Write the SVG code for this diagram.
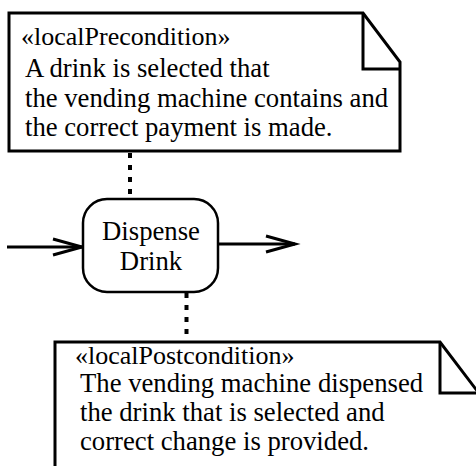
<svg xmlns="http://www.w3.org/2000/svg" width="476" height="466" viewBox="0 0 476 466">
<style>
.shape{fill:#fff;stroke:#000;stroke-width:3;stroke-linejoin:miter}
.fold{fill:none;stroke:#000;stroke-width:3}
.dot{stroke:#000;stroke-width:4;stroke-dasharray:5 7;fill:none}
.flow{stroke:#000;stroke-width:3;fill:none}
text{font-family:"Liberation Serif","Times New Roman",serif;fill:#000}
.st{font-size:26px}
.bd{font-size:26.7px}
</style>
<defs>
<marker id="open" markerUnits="userSpaceOnUse" markerWidth="34" markerHeight="20" refX="29" refY="9" orient="auto" overflow="visible">
<path d="M0,1 L29,9 L0,17" fill="none" stroke="#000" stroke-width="3"/>
</marker>
</defs>
<g id="connectors">
<line class="dot" x1="130" y1="153" x2="130" y2="198"/>
<line class="dot" x1="186.5" y1="293" x2="186.5" y2="341"/>
<line class="flow" x1="7" y1="247" x2="82" y2="247" marker-end="url(#open)"/>
<line class="flow" x1="218" y1="244" x2="295" y2="244" marker-end="url(#open)"/>
</g>
<g id="precondition">
<path class="shape" d="M9,13 H363 L400,62 V151 H9 Z"/>
<path class="fold" d="M363,13 V69 H400"/>
<text class="st" x="21" y="45">«localPrecondition»</text>
<text class="bd" x="25" y="77">A drink is selected that</text>
<text class="bd" x="25" y="107">the vending machine contains and</text>
<text class="bd" x="25" y="136">the correct payment is made.</text>
</g>
<g id="dispense">
<rect class="shape" x="83" y="199" width="135" height="93" rx="24" ry="24" style="stroke-width:2.5"/>
<text class="bd" x="151" y="240" text-anchor="middle">Dispense</text>
<text class="bd" x="151" y="270" text-anchor="middle">Drink</text>
</g>
<g id="postcondition">
<path class="shape" d="M55,470 V342 H440 L478,392 V470"/>
<path class="fold" d="M440,342 V393 H478"/>
<text class="st" x="75" y="364">«localPostcondition»</text>
<text class="bd" x="80" y="392">The vending machine dispensed</text>
<text class="bd" x="80" y="421">the drink that is selected and</text>
<text class="bd" x="80" y="450">correct change is provided.</text>
</g>
</svg>
